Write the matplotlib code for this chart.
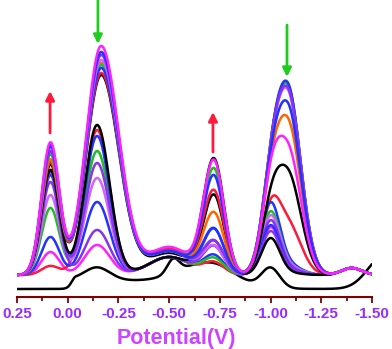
import numpy as np
import matplotlib.pyplot as plt

# --- dados (alturas dos picos, em unidades arbitrárias) ---
cores = ['#000000',
         '#FF22FF', '#FF1A3C', '#2233FF', '#1FBF1F', '#CC66FF',
         '#8833EE', '#2233FF', '#8833EE', '#000000',
         '#000000', '#FF1A3C', '#FF6600', '#1FBF1F', '#2233FF',
         '#CC66FF', '#8833EE', '#2233FF', '#FF22FF']

fundo  = [8, 22, 22, 22, 22, 22, 22, 22, 22, 22, 22, 22, 22, 22, 22, 22, 22, 22, 22]
h_p1   = [0, 23, 9, 38, 67, 80, 93, 100, 103, 105, 110, 112, 115, 120, 127, 125, 123, 129, 132]
h_p2a  = [12, 30, 145, 73, 124, 97, 45, 139, 112, 150, 0, 0, 0, 0, 0, 0, 0, 0, 0]
h_p2b  = [0, 0, 0, 0, 0, 0, 0, 0, 0, 0, 200, 202, 212, 210, 207, 215, 220, 223, 229]
h_om   = [0, 18, 18, 18, 18, 18, 18, 18, 18, 18, 22, 26, 24, 24, 24, 24, 24, 24, 28]
h_p3   = [0, 28, 12, 19, 16, 33, 28, 45, 33, 79, 115, 83, 61, 105, 98, 28, 33, 45, 113]
h_p5   = [20, 45, 52, 68, 60, 56, 52, 48, 42, 36, 40, 45, 45, 45, 45, 45, 45, 45, 55]
h_p4   = [0, 6, 50, 10, 8, 8, 6, 4, 4, 2, 100, 183, 150, 183, 185, 178, 180, 165, 124]
h_p6   = [0, 7, 7, 7, 7, 7, 7, 7, 7, 7, 7, 7, 7, 7, 7, 7, 7, 7, 7]
# feições só da primeira curva (preta)
h_degrau = [10] + [0] * 18
h_bossa  = [14] + [0] * 18
h_plato  = [24] + [0] * 18
h_cauda  = [33] + [0] * 18

# posição (V) e larguras (esq., dir.) de cada componente
picos = {
    'p1':    (0.085, 0.044, 0.044),
    'p2a':   (-0.145, 0.060, 0.062),
    'p2b':   (-0.165, 0.074, 0.088),
    'om':    (-0.50, 0.10, 0.10),
    'p3':    (-0.72, 0.052, 0.050),
    'p5':    (-1.00, 0.045, 0.045),
    'p4':    (-1.085, 0.070, 0.064),
    'p6':    (-1.40, 0.050, 0.050),
    'degrau': (-0.04, 0.020, 0.40),
    'bossa': (-0.52, 0.030, 0.030),
    'plato': (-0.70, 0.15, 0.12),
    'cauda': (-1.56, 0.080, 0.080),
}
alturas = {'p1': h_p1, 'p2a': h_p2a, 'p2b': h_p2b, 'om': h_om, 'p3': h_p3,
           'p5': h_p5, 'p4': h_p4, 'p6': h_p6, 'degrau': h_degrau,
           'bossa': h_bossa, 'plato': h_plato, 'cauda': h_cauda}

ticks_pos = [0.25, 0.0, -0.25, -0.5, -0.75, -1.0, -1.25, -1.5]
ticks_txt = ['0.25', '0.00', '-0.25', '-0.50', '-0.75', '-1.00', '-1.25', '-1.50']

# setas: (E, início, fim, cor)
setas = [(0.087, 164, 206, '#FF1A3C'),
         (-0.149, 300, 253, '#1FCC1F'),
         (-0.716, 145, 185, '#FF1A3C'),
         (-1.081, 272, 220, '#1FCC1F')]


def pico(E, centro, sl, sr):
    s = np.where(E > centro, sl, sr)
    return np.exp(-0.5 * ((E - centro) / s) ** 2)


E = np.linspace(0.25, -1.5, 900)

fig = plt.figure(figsize=(3.92, 3.49), dpi=100)
ax = fig.add_axes([17 / 392, 52 / 349, 355 / 392, 297 / 349])

for i, cor in enumerate(cores):
    y = np.full_like(E, fundo[i], dtype=float)
    for nome, (c, sl, sr) in picos.items():
        h = alturas[nome][i]
        if h:
            y += h * pico(E, c, sl, sr)
    ax.plot(E, y, color=cor, lw=1.8, solid_capstyle='round')

for e, y0, y1, cor in setas:
    ax.annotate('', xy=(e, y1), xytext=(e, y0), annotation_clip=False,
                arrowprops=dict(arrowstyle='-|>', color=cor, lw=2,
                                mutation_scale=13, shrinkA=0, shrinkB=0))

ax.set_xlim(0.25, -1.5)
ax.set_ylim(0, 297)

for lado in ['top', 'right', 'left']:
    ax.spines[lado].set_visible(False)
ax.spines['bottom'].set_color('#800000')
ax.spines['bottom'].set_linewidth(1.5)

ax.set_yticks([])
ax.set_xticks(ticks_pos)
ax.set_xticklabels(ticks_txt, fontsize=11, fontweight='bold',
                   color='#9A2BFF', family='Liberation Sans')
ax.set_xticks(np.arange(0.125, -1.5, -0.25), minor=True)
ax.tick_params(axis='x', which='major', direction='out', length=4,
               width=1.3, color='#800000', pad=3)
ax.tick_params(axis='x', which='minor', direction='out', length=3,
               width=1.3, color='#800000')

ax.set_xlabel('Potential(V)', fontsize=15.5, fontweight='bold',
              color='#CC44FF', family='Liberation Sans', labelpad=1)
ax.xaxis.set_label_coords(0.448, -0.105)

fig.savefig('out.png', dpi=100)
